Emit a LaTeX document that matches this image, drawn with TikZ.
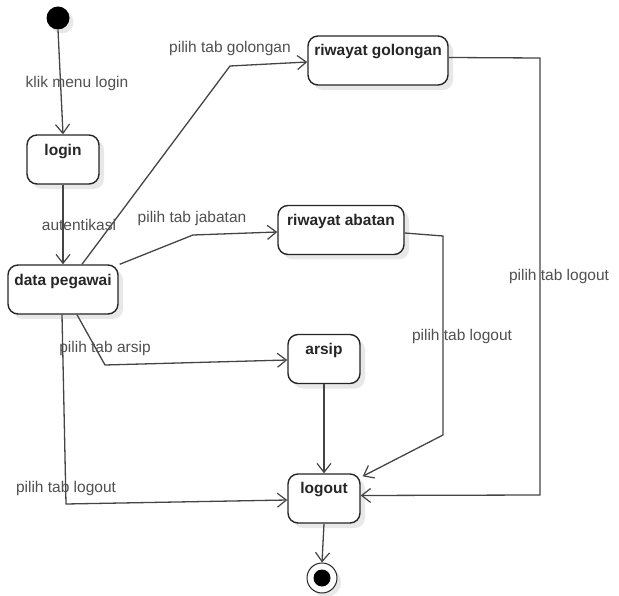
\documentclass[tikz,border=0pt]{standalone}
\usepackage{fontspec}
\setmainfont{Liberation Sans}
\usetikzlibrary{arrows.meta,calc,shadows}

\definecolor{edgecol}{HTML}{444444}
\definecolor{labcol}{HTML}{505050}
\definecolor{boxtext}{HTML}{262626}

\tikzset{
  stbox/.style={draw=boxtext, line width=1.4pt, rounded corners=10pt, fill=white,
    minimum height=49pt, inner sep=0pt,
    drop shadow={shadow xshift=5pt, shadow yshift=-5pt, fill=black!9, opacity=1}},
  boxlbl/.style={anchor=center, yshift=-17pt, text=boxtext,
    font=\fontsize{15.5}{18}\selectfont\bfseries, inner sep=0pt},
  trans/.style={draw=edgecol, line width=1.3pt, -{Straight Barb[length=9pt,width=14pt,line width=1.2pt]}},
  edgelbl/.style={text=labcol, font=\fontsize{15.5}{18}\selectfont, inner sep=0pt}
}

\begin{document}
\begin{tikzpicture}[x=1pt,y=-1pt]
  \useasboundingbox (0,0) rectangle (619,596);

  % initial and final pseudo states
  \node[circle, fill=black, minimum size=23pt, inner sep=0pt,
        drop shadow={shadow xshift=4pt, shadow yshift=-4pt, fill=black!9, opacity=1}] (start) at (58,18) {};
  \node[circle, draw=boxtext, line width=1pt, fill=white, minimum size=30pt, inner sep=0pt,
        drop shadow={shadow xshift=4pt, shadow yshift=-4pt, fill=black!9, opacity=1}] (end) at (322,578) {};
  \node[circle, fill=black, minimum size=17pt, inner sep=0pt] (endcore) at (end.center) {};

  % states
  \node[stbox, minimum width=72pt,  label={[boxlbl]north:login}]            (login)  at (63,159.5) {};
  \node[stbox, minimum width=110pt, label={[boxlbl]north:data pegawai}]     (dp)     at (63,289.5) {};
  \node[stbox, minimum width=140pt, label={[boxlbl,yshift=1pt]north:riwayat golongan}] (gol) at (378,60.5) {};
  \node[stbox, minimum width=126pt, label={[boxlbl]north:riwayat abatan}]   (ab)     at (341,230) {};
  \node[stbox, minimum width=72pt,  label={[boxlbl]north:arsip}]            (arsip)  at (324,359) {};
  \node[stbox, minimum width=72pt,  label={[boxlbl,yshift=1pt]north:logout}] (logout) at (324,498.5) {};

  % bend points of the transitions
  \coordinate (bgol) at (230,66);
  \coordinate (bab)  at (193,235);
  \coordinate (bars) at (105,365);
  \coordinate (blog) at (66,504);
  \coordinate (abr1) at (443,236);
  \coordinate (abr2) at (443,435);
  \coordinate (gor1) at (540,58);
  \coordinate (gor2) at (540,495);

  % transitions
  \draw[trans] (start.south) -- (login.north);
  \draw[trans] (login.south) -- (dp.north);
  \draw[trans] ($(dp.north)+(19,0)$) -- (bgol) -- ($(gol.west)+(0,1.5)$);
  \draw[trans] ($(dp.north east)+(1,0)$) -- (bab) -- ($(ab.west)+(0,2)$);
  \draw[trans] ($(dp.south)+(14,0)$) -- (bars) -- ($(arsip.west)+(0,1)$);
  \draw[trans] ($(dp.south)+(-1,0)$) -- (blog) -- ($(logout.west)+(0,1.5)$);
  \draw[trans] (arsip.south) -- (logout.north);
  \draw[trans] ($(ab.east)+(0,3)$) -- (abr1) -- (abr2) -- ($(logout.north east)+(2,3)$);
  \draw[trans] ($(gol.east)+(0,-3)$) -- (gor1) -- (gor2) -- ($(logout.east)+(0,-3)$);
  \draw[trans] (logout.south) -- (end.north);

  % transition labels
  \node[edgelbl] (l1) at (77,83)   {klik menu login};
  \node[edgelbl] (l2) at (79,225)  {autentikasi};
  \node[edgelbl] (l3) at (230,48)  {pilih tab golongan};
  \node[edgelbl] (l4) at (192,218) {pilih tab jabatan};
  \node[edgelbl] (l5) at (105,348) {pilih tab arsip};
  \node[edgelbl] (l6) at (66,488)  {pilih tab logout};
  \node[edgelbl] (l7) at (462,336) {pilih tab logout};
  \node[edgelbl] (l8) at (559,276) {pilih tab logout};
\end{tikzpicture}
\end{document}
